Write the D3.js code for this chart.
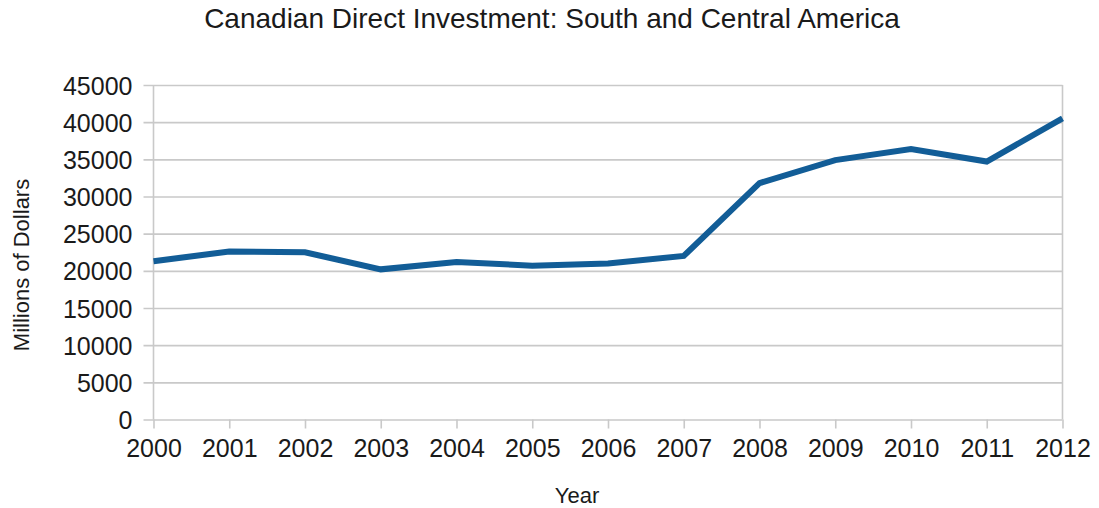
<!DOCTYPE html>
<html>
<head>
<meta charset="utf-8">
<script src="https://cdn.jsdelivr.net/npm/d3@7/dist/d3.min.js"></script>
<style>
  html, body { margin: 0; padding: 0; background: #fff; }
  svg { display: block; }
  text { font-family: "Liberation Sans", Arial, Helvetica, sans-serif; fill: #1a1a1a; }
</style>
</head>
<body>
<svg id="chart" width="1099" height="508"></svg>
<script>
// Canadian direct investment position, South and Central America (millions of dollars)
const years = [2000, 2001, 2002, 2003, 2004, 2005, 2006, 2007, 2008, 2009, 2010, 2011, 2012];
const investment = [21300, 22600, 22500, 20200, 21200, 20700, 21000, 22000, 31800, 34900, 36400, 34700, 40500];
const yTicks = [0, 5000, 10000, 15000, 20000, 25000, 30000, 35000, 40000, 45000];

const titleText = "Canadian Direct Investment: South and Central America";
const xTitle = "Year";
const yTitle = "Millions of Dollars";

const svg = d3.select("#chart");
const plot = { left: 153.5, right: 1062.5, top: 85, bottom: 419.5 };

const x = d3.scalePoint().domain(years).range([plot.left, plot.right]);
const y = d3.scaleLinear().domain([0, 45000]).range([plot.bottom, plot.top]);

const gridColor = "#c9c9c9";

// horizontal gridlines with short ticks to the left of the axis
const yAxis = d3.axisLeft(y)
  .tickValues(yTicks)
  .tickSize(-(plot.right - plot.left))
  .tickPadding(0)
  .tickFormat("");
const gy = svg.append("g")
  .attr("transform", `translate(${plot.left},0)`)
  .call(yAxis);
gy.select(".domain").remove();
gy.selectAll(".tick line")
  .attr("x1", -10)
  .attr("stroke", gridColor)
  .attr("stroke-width", 1.6);

gy.selectAll(".tick").append("text")
  .attr("x", -21)
  .attr("dy", "0.36em")
  .attr("text-anchor", "end")
  .style("font-size", "25px")
  .text(d => d);

// vertical frame lines
svg.append("line")
  .attr("x1", plot.left).attr("x2", plot.left)
  .attr("y1", plot.top).attr("y2", plot.bottom)
  .attr("stroke", gridColor).attr("stroke-width", 1.6);
svg.append("line")
  .attr("x1", plot.right).attr("x2", plot.right)
  .attr("y1", plot.top).attr("y2", plot.bottom)
  .attr("stroke", gridColor).attr("stroke-width", 1.6);

// x axis ticks and year labels
const xAxis = d3.axisBottom(x).tickSize(9).tickPadding(0).tickFormat("");
const gx = svg.append("g")
  .attr("transform", `translate(0,${plot.bottom})`)
  .call(xAxis);
gx.select(".domain").remove();
gx.selectAll(".tick line").attr("stroke", gridColor).attr("stroke-width", 1.6);
gx.selectAll(".tick").append("text")
  .attr("y", 37)
  .attr("text-anchor", "middle")
  .style("font-size", "25px")
  .text(d => d);

// data line
const line = d3.line()
  .x((d, i) => x(years[i]))
  .y(d => y(d));
svg.append("path")
  .datum(investment)
  .attr("d", line)
  .attr("fill", "none")
  .attr("stroke", "#125d97")
  .attr("stroke-width", 6)
  .attr("stroke-linejoin", "miter");

// titles
svg.append("text")
  .attr("x", 552).attr("y", 28)
  .attr("text-anchor", "middle")
  .style("font-size", "28px")
  .text(titleText);

svg.append("text")
  .attr("x", 577).attr("y", 503)
  .attr("text-anchor", "middle")
  .style("font-size", "22px")
  .text(xTitle);

svg.append("text")
  .attr("transform", "translate(29,265) rotate(-90)")
  .attr("text-anchor", "middle")
  .style("font-size", "22px")
  .text(yTitle);
</script>
</body>
</html>
